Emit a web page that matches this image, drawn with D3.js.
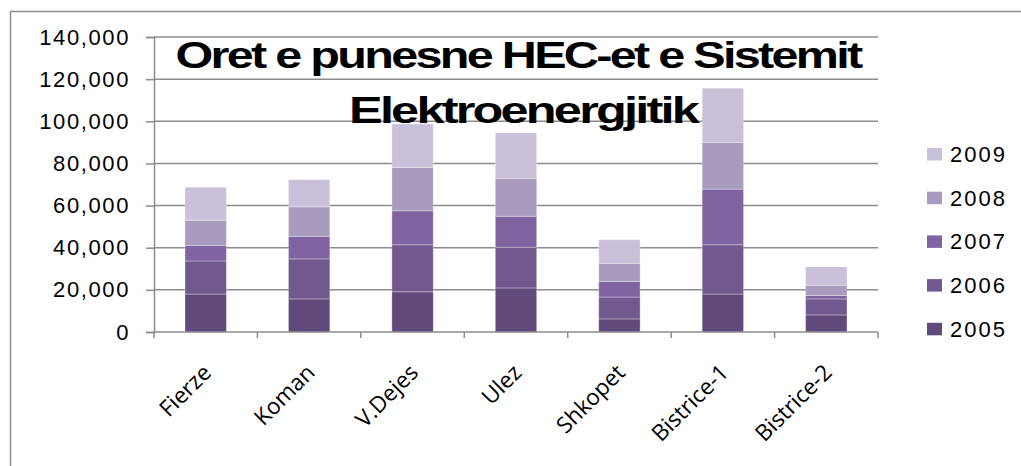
<!DOCTYPE html>
<html>
<head>
<meta charset="utf-8">
<script src="https://cdn.jsdelivr.net/npm/d3@7"></script>
<style>
	html, body { margin:0; padding:0; background:#fff; }
	#chart { width:1021px; height:466px; }
</style>
</head>
<body>
<div id="chart"></div>
<script>

const categories = ["Fierze","Koman","V.Dejes","Ulez","Shkopet","Bistrice-1","Bistrice-2"];
const years = ["2005","2006","2007","2008","2009"];

// hours per plant and year
const v2005 = [18000, 15700, 19100, 20900, 6200, 18000, 8100];
const v2006 = [15700, 19000, 22300, 19300, 10400, 23400, 7600];
const v2007 = [7400, 10700, 16100, 14700, 7400, 26400, 1600];
const v2008 = [11900, 14000, 20600, 18000, 8600, 22100, 4900];
const v2009 = [15700, 12900, 20600, 21600, 11200, 25800, 8700];

const yTicks = [0,20000,40000,60000,80000,100000,120000,140000];
const colors = ["#5f4a7b","#71598f","#8064a2","#a99bbe","#c9c1d9"];

function drawChart(rootDOM){

	const W = 1021;
	const H = 466;
	const m = {t:37, r:143, b:134, l:154};

	const series = [v2005, v2006, v2007, v2008, v2009];
	const rows = categories.map((c,i) => {
		const r = {cat:c};
		years.forEach((y,j) => r[y] = series[j][i]);
		return r;
	});
	const stacked = d3.stack().keys(years)(rows);

	const svg = d3.select(rootDOM).append("svg")
		.attr("width", W)
		.attr("height", H);

	// outer frame
	svg.append("rect")
		.attr("x",10.5).attr("y",11.5)
		.attr("width",1030).attr("height",480)
		.attr("fill","none")
		.attr("stroke","#8c8c8c")
		.attr("stroke-width",1.5);

	const x = d3.scaleBand()
		.domain(categories)
		.range([m.l, W - m.r])
		.paddingInner(0.6)
		.paddingOuter(0.3);

	const y = d3.scaleLinear()
		.domain([0,140000])
		.range([H - m.b, m.t]);

	// gridlines
	svg.append("g")
		.selectAll("line")
		.data(yTicks.slice(1))
		.enter()
		.append("line")
		.attr("x1", m.l).attr("x2", W - m.r)
		.attr("y1", d => y(d)).attr("y2", d => y(d))
		.attr("stroke","#8c8c8c")
		.attr("stroke-width",1.5);

	// y axis
	const yAxis = svg.append("g")
		.attr("transform", `translate(${m.l},0)`)
		.call(d3.axisLeft(y).tickValues(yTicks).tickFormat(d3.format(",")).tickSize(8).tickPadding(16));
	yAxis.select(".domain").attr("stroke","#8c8c8c").attr("stroke-width",1.5);
	yAxis.selectAll(".tick line").attr("stroke","#8c8c8c").attr("stroke-width",1.5);
	yAxis.selectAll(".tick text")
		.attr("fill","#000")
		.style("font-family","'Liberation Sans', Arial, sans-serif")
		.style("font-size","22px")
		.style("letter-spacing","1.6px");

	// bars
	svg.append("g")
		.selectAll("g")
		.data(stacked)
		.enter()
		.append("g")
		.attr("fill", (d,i) => colors[i])
		.selectAll("rect")
		.data(d => d)
		.enter()
		.append("rect")
		.attr("x", d => x(d.data.cat))
		.attr("width", x.bandwidth())
		.attr("y", d => y(d[1]))
		.attr("height", d => y(d[0]) - y(d[1]))
		.attr("stroke","rgba(255,255,255,0.3)")
		.attr("stroke-width",1);

	// x axis
	const x0 = H - m.b;
	svg.append("line")
		.attr("x1", m.l).attr("x2", W - m.r)
		.attr("y1", x0).attr("y2", x0)
		.attr("stroke","#8c8c8c").attr("stroke-width",1.5);

	const edges = categories.map(c => x(c) - (x.step() - x.bandwidth())/2);
	edges.push(W - m.r);
	svg.append("g")
		.selectAll("line")
		.data(edges)
		.enter()
		.append("line")
		.attr("x1", d => d).attr("x2", d => d)
		.attr("y1", x0).attr("y2", x0 + 6)
		.attr("stroke","#8c8c8c").attr("stroke-width",1.5);

	svg.append("g")
		.selectAll("text")
		.data(categories)
		.enter()
		.append("text")
		.attr("transform", d => `translate(${x(d) + x.bandwidth()/2 + 7},${x0 + 42}) rotate(-45)`)
		.attr("text-anchor","end")
		.style("font-family","'Open Sans', sans-serif")
		.style("font-size","22.5px")
		.attr("fill","#000")
		.text(d => d);

	// title
	const title = svg.append("g")
		.attr("font-family","'Liberation Sans', Arial, sans-serif")
		.attr("font-weight","bold")
		.attr("font-size","36px")
		.attr("text-anchor","middle")
		.attr("fill","#000")
		.style("letter-spacing","-2px");
	title.append("text")
		.attr("x",518).attr("y",68)
		.attr("textLength",685)
		.attr("lengthAdjust","spacingAndGlyphs")
		.text("Oret e punesne HEC-et e Sistemit");
	title.append("text")
		.attr("x",523).attr("y",123)
		.attr("textLength",348)
		.attr("lengthAdjust","spacingAndGlyphs")
		.text("Elektroenergjitik");

	// legend
	const legend = svg.append("g")
		.selectAll("g")
		.data(years.slice().reverse())
		.enter()
		.append("g")
		.attr("transform", (d,i) => `translate(927,${154 + i*43.7})`);
	legend.append("rect")
		.attr("x",0).attr("y",-6)
		.attr("width",15).attr("height",12.5)
		.attr("fill", d => colors[years.indexOf(d)]);
	legend.append("text")
		.attr("x",23).attr("y",8)
		.style("font-family","'Liberation Sans', Arial, sans-serif")
		.style("font-size","22px")
		.style("letter-spacing","2px")
		.attr("fill","#000")
		.text(d => d);
}

drawChart(document.getElementById("chart"));
</script>
</body>
</html>
